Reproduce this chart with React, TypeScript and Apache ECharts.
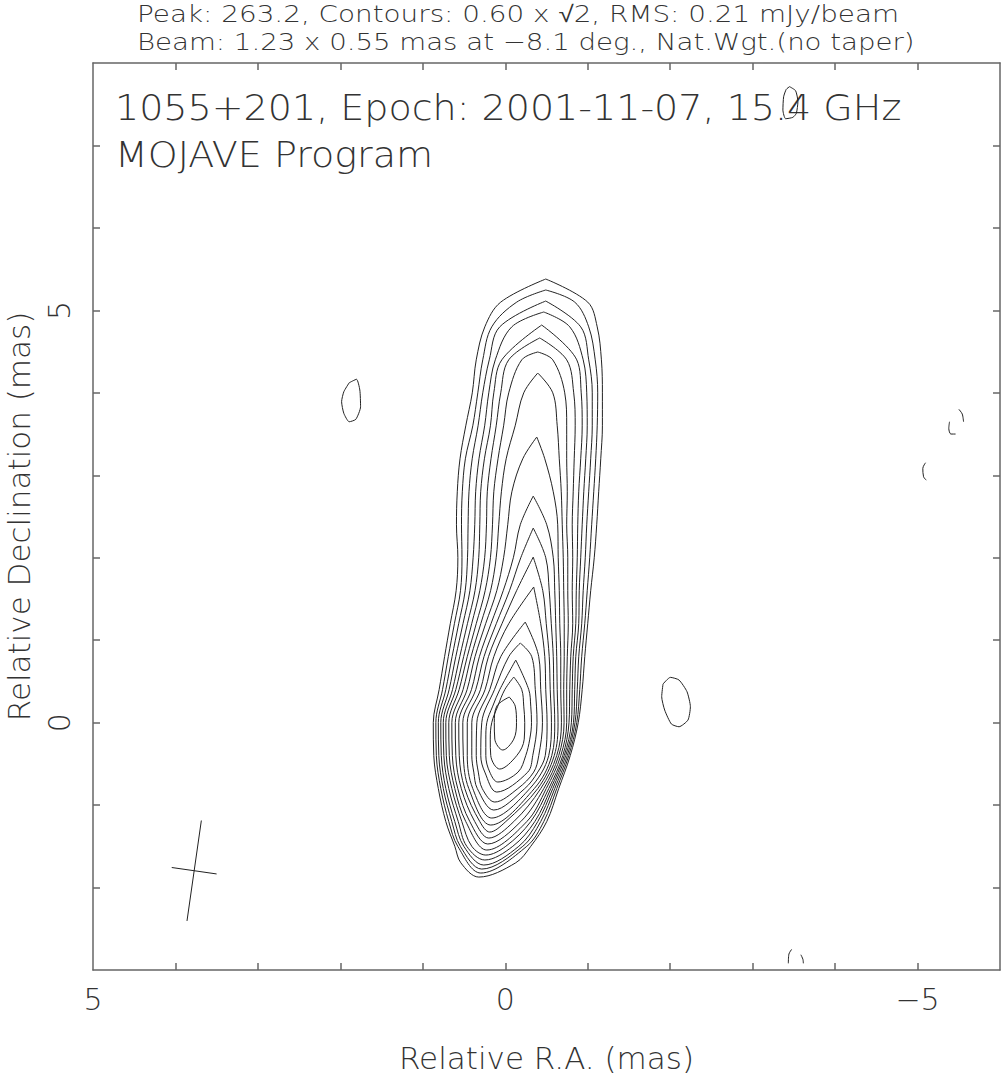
import { useEffect, useRef } from "react";
import * as echarts from "echarts";

// Contour levels (mJy/beam): 0.60 x sqrt(2)^n
const LEVELS = [0.6, 0.85, 1.2, 1.7, 2.4, 3.39, 4.8, 6.79, 9.6, 13.58, 19.2, 27.15, 38.4, 54.31, 76.8, 108.61, 153.6, 217.22];

// Each contour: [Dec (mas), R.A. of east/left crossing, R.A. of west/right crossing]
const C01 = [[5.1, 0.055, -1.0], [4.8, 0.248, -1.115], [4.4, 0.352, -1.166], [4.0, 0.4, -1.178], [3.6, 0.479, -1.178], [3.2, 0.549, -1.158], [2.8, 0.582, -1.133], [2.4, 0.592, -1.109], [2.0, 0.575, -1.079], [1.6, 0.596, -1.036], [1.2, 0.667, -1.0], [0.8, 0.736, -0.964], [0.4, 0.802, -0.933], [0.0, 0.873, -0.885], [-0.4, 0.867, -0.788], [-0.8, 0.812, -0.648], [-1.2, 0.721, -0.503], [-1.5, 0.612, -0.309], [-1.7, 0.539, -0.127]];
const C02 = [[5.1, -0.139, -0.842], [4.8, 0.164, -1.012], [4.4, 0.273, -1.091], [4.0, 0.333, -1.121], [3.6, 0.394, -1.115], [3.2, 0.484, -1.097], [2.8, 0.521, -1.073], [2.4, 0.531, -1.048], [2.0, 0.525, -1.024], [1.6, 0.543, -0.994], [1.2, 0.617, -0.964], [0.8, 0.691, -0.927], [0.4, 0.761, -0.903], [0.0, 0.842, -0.867], [-0.4, 0.836, -0.77], [-0.8, 0.782, -0.624], [-1.2, 0.685, -0.467], [-1.5, 0.576, -0.261]];
const C03 = [[4.8, 0.067, -0.915], [4.4, 0.194, -1.012], [4.0, 0.273, -1.055], [3.6, 0.33, -1.055], [3.2, 0.401, -1.036], [2.8, 0.44, -1.012], [2.4, 0.451, -0.988], [2.0, 0.458, -0.97], [1.6, 0.486, -0.945], [1.2, 0.565, -0.927], [0.8, 0.645, -0.891], [0.4, 0.721, -0.873], [0.0, 0.812, -0.846], [-0.4, 0.806, -0.752], [-0.8, 0.752, -0.6], [-1.2, 0.648, -0.43], [-1.5, 0.545, -0.212]];
const C04 = [[4.8, -0.079, -0.782], [4.4, 0.121, -0.945], [4.0, 0.2, -0.988], [3.6, 0.25, -0.994], [3.2, 0.319, -0.976], [2.8, 0.359, -0.952], [2.4, 0.37, -0.933], [2.0, 0.39, -0.915], [1.6, 0.429, -0.897], [1.2, 0.513, -0.891], [0.8, 0.6, -0.855], [0.4, 0.681, -0.842], [0.0, 0.782, -0.827], [-0.4, 0.776, -0.733], [-0.8, 0.721, -0.576], [-1.2, 0.612, -0.394], [-1.5, 0.503, -0.164]];
const C05 = [[4.4, 0.042, -0.867], [4.0, 0.139, -0.921], [3.6, 0.18, -0.933], [3.2, 0.253, -0.915], [2.8, 0.298, -0.891], [2.4, 0.309, -0.879], [2.0, 0.322, -0.873], [1.6, 0.367, -0.861], [1.2, 0.459, -0.855], [0.8, 0.552, -0.824], [0.4, 0.64, -0.812], [0.0, 0.752, -0.802], [-0.4, 0.745, -0.715], [-0.8, 0.685, -0.552], [-1.2, 0.57, -0.358], [-1.5, 0.467, -0.091]];
const C06 = [[4.4, -0.042, -0.745], [4.0, 0.055, -0.83], [3.6, 0.11, -0.848], [3.2, 0.173, -0.836], [2.8, 0.218, -0.824], [2.4, 0.228, -0.812], [2.0, 0.25, -0.818], [1.6, 0.309, -0.812], [1.2, 0.407, -0.818], [0.8, 0.505, -0.794], [0.4, 0.6, -0.782], [0.0, 0.721, -0.773], [-0.4, 0.715, -0.697], [-0.8, 0.648, -0.527], [-1.2, 0.527, -0.309], [-1.5, 0.406, -0.006]];
const C07 = [[4.4, -0.2, -0.576], [4.0, -0.042, -0.721], [3.6, 0.02, -0.745], [3.2, 0.088, -0.745], [2.8, 0.139, -0.752], [2.4, 0.155, -0.745], [2.0, 0.18, -0.758], [1.6, 0.244, -0.758], [1.2, 0.352, -0.764], [0.8, 0.461, -0.752], [0.4, 0.56, -0.745], [0.0, 0.685, -0.745], [-0.4, 0.679, -0.673], [-0.8, 0.612, -0.497], [-1.2, 0.479, -0.261]];
const C08 = [[4.0, -0.224, -0.576], [3.6, -0.12, -0.63], [3.2, -0.011, -0.655], [2.8, 0.047, -0.679], [2.4, 0.079, -0.691], [2.0, 0.11, -0.703], [1.6, 0.178, -0.709], [1.2, 0.297, -0.715], [0.8, 0.415, -0.715], [0.4, 0.512, -0.709], [0.0, 0.648, -0.713], [-0.4, 0.642, -0.648], [-0.8, 0.576, -0.467], [-1.2, 0.43, -0.188]];
const C09 = [[3.2, -0.212, -0.479], [2.8, -0.08, -0.582], [2.4, -0.03, -0.636], [2.0, 0.02, -0.642], [1.6, 0.103, -0.655], [1.2, 0.238, -0.661], [0.8, 0.367, -0.673], [0.4, 0.463, -0.673], [0.0, 0.606, -0.681], [-0.4, 0.6, -0.624], [-0.8, 0.533, -0.43], [-1.2, 0.37, -0.103]];
const C10 = [[2.4, -0.182, -0.503], [2.0, -0.098, -0.582], [1.6, 0.025, -0.6], [1.2, 0.173, -0.612], [0.8, 0.314, -0.624], [0.4, 0.41, -0.63], [0.0, 0.564, -0.64], [-0.4, 0.558, -0.594], [-0.8, 0.491, -0.394], [-1.2, 0.309, -0.006]];
const C11 = [[2.0, -0.188, -0.491], [1.6, -0.051, -0.533], [1.2, 0.109, -0.558], [0.8, 0.258, -0.582], [0.4, 0.358, -0.588], [0.0, 0.515, -0.6], [-0.4, 0.509, -0.564], [-0.8, 0.442, -0.352]];
const C12 = [[1.6, -0.137, -0.455], [1.2, 0.04, -0.497], [0.8, 0.204, -0.533], [0.4, 0.301, -0.545], [0.0, 0.461, -0.56], [-0.4, 0.461, -0.527], [-0.8, 0.394, -0.297]];
const C13 = [[1.2, -0.042, -0.43], [0.8, 0.139, -0.479], [0.4, 0.245, -0.491], [0.0, 0.406, -0.507], [-0.4, 0.406, -0.485], [-0.6, 0.382, -0.394], [-0.8, 0.339, -0.236]];
const C14 = [[0.8, 0.055, -0.406], [0.4, 0.188, -0.43], [0.0, 0.345, -0.451], [-0.4, 0.352, -0.406], [-0.6, 0.327, -0.345], [-0.8, 0.279, -0.152]];
const C15 = [[0.8, -0.042, -0.321], [0.4, 0.131, -0.364], [0.0, 0.285, -0.385], [-0.4, 0.297, -0.333], [-0.6, 0.248, -0.273]];
const C16 = [[0.4, 0.067, -0.285], [0.2, 0.152, -0.309], [0.0, 0.224, -0.318], [-0.2, 0.236, -0.297], [-0.4, 0.236, -0.248], [-0.6, 0.188, -0.155]];
const C17 = [[0.4, 0.006, -0.2], [0.2, 0.091, -0.224], [0.0, 0.164, -0.236], [-0.2, 0.182, -0.23], [-0.4, 0.176, -0.139]];
const C18 = [[0.2, 0.103, -0.121], [0.0, 0.133, -0.136], [-0.2, 0.127, -0.103]];
const CROSSINGS = [C01, C02, C03, C04, C05, C06, C07, C08, C09, C10, C11, C12, C13, C14, C15, C16, C17, C18];

// Northernmost and southernmost point of each contour [R.A., Dec]
const APEX = [[-0.491, 5.38], [-0.491, 5.247], [-0.491, 5.113], [-0.467, 4.98], [-0.442, 4.822], [-0.418, 4.665], [-0.394, 4.495], [-0.394, 4.24], [-0.382, 3.464], [-0.339, 2.748], [-0.339, 2.36], [-0.339, 2.008], [-0.345, 1.645], [-0.242, 1.22], [-0.182, 0.965], [-0.127, 0.759], [-0.103, 0.553], [-0.048, 0.31]];
const BOTTOM = [[0.321, -1.873], [0.297, -1.824], [0.285, -1.776], [0.261, -1.727], [0.248, -1.666], [0.236, -1.606], [0.224, -1.545], [0.212, -1.472], [0.2, -1.4], [0.188, -1.327], [0.176, -1.242], [0.164, -1.157], [0.139, -1.06], [0.127, -0.963], [0.103, -0.842], [0.091, -0.72], [0.067, -0.563], [0.03, -0.332]];

// Isolated lowest-level contours
const BLOB_EAST = [[1.893, 4.122], [1.804, 4.164], [1.764, 4.034], [1.755, 3.831], [1.812, 3.679], [1.893, 3.649], [1.958, 3.751], [1.985, 3.892], [1.958, 4.013], [1.893, 4.122]];
const BLOB_WEST = [[-1.913, 0.468], [-2.002, 0.549], [-2.107, 0.517], [-2.204, 0.375], [-2.245, 0.193], [-2.216, 0.032], [-2.107, -0.05], [-2.015, -0.017], [-1.933, 0.153], [-1.897, 0.314], [-1.913, 0.468]];
const BLOB_NORTH = [[-3.448, 7.713], [-3.521, 7.664], [-3.549, 7.531], [-3.53, 7.39], [-3.488, 7.341], [-3.4, 7.324], [-3.367, 7.43], [-3.376, 7.591], [-3.408, 7.681], [-3.448, 7.713]];

// Visible dashes of negative contours
const NEG_DASHES = [
  [[-5.501, 3.8], [-5.542, 3.743], [-5.558, 3.649]],
  [[-5.388, 3.649], [-5.379, 3.569], [-5.404, 3.5], [-5.461, 3.5]],
  [[-5.097, 3.152], [-5.064, 3.084], [-5.073, 2.982], [-5.105, 2.942]],
  [[-3.473, -2.75], [-3.44, -2.807], [-3.433, -2.919]],
  [[-3.585, -2.815], [-3.61, -2.871], [-3.615, -2.919]],
];

// Restoring beam cross (1.23 x 0.55 mas at -8.1 deg)
const BEAM_MAJOR = [[3.686, -1.187], [3.86, -2.405]];
const BEAM_MINOR = [[4.045, -1.757], [3.501, -1.835]];

const X_TICKS = [-5, -4, -3, -2, -1, 0, 1, 2, 3, 4];
const Y_TICKS = [-2, -1, 0, 1, 2, 3, 4, 5, 6, 7];
const X_LABELS = [5, 0, -5];
const Y_LABELS = [0, 5];

const TITLE_1 = "Peak: 263.2, Contours: 0.60 x \u221A2, RMS: 0.21 mJy/beam";
const TITLE_2 = "Beam: 1.23 x 0.55 mas at \u22128.1 deg., Nat.Wgt.(no taper)";
const INNER_1 = "1055+201, Epoch: 2001-11-07, 15.4 GHz";
const INNER_2 = "MOJAVE Program";

const FONT = '"DejaVu Sans", sans-serif';
const TXT = "#333";
const FRAME = "#666";
const LINE = "#222";

function ring(apex: number[], rows: number[][], bottom: number[]) {
  const pts: number[][] = [apex];
  rows.forEach((r) => pts.push([r[2], r[0]]));
  pts.push(bottom);
  for (let i = rows.length - 1; i >= 0; i--) pts.push([rows[i][1], rows[i][0]]);
  pts.push(apex);
  return pts;
}

function lineSeries(name: string, data: number[][], smooth: number | boolean) {
  return {
    name,
    type: "line",
    data,
    showSymbol: false,
    symbol: "none",
    smooth,
    silent: true,
    lineStyle: { color: LINE, width: 1 },
    xAxisIndex: 0,
    yAxisIndex: 0,
  };
}

function textEl(text: string, x: number, y: number, size: number, sx: number) {
  return {
    type: "text",
    x,
    y,
    scaleX: sx,
    style: { text, fontSize: size, fontFamily: FONT, fontWeight: 200, fill: TXT, textAlign: "left", textVerticalAlign: "middle" },
  };
}

function buildOption() {
  const series: any[] = [];
  CROSSINGS.forEach((rows, i) => {
    series.push(lineSeries(`${LEVELS[i]} mJy`, ring(APEX[i], rows, BOTTOM[i]), 0.35));
  });
  series.push(lineSeries("blob east", BLOB_EAST, 0.2));
  series.push(lineSeries("blob west", BLOB_WEST, 0.2));
  series.push(lineSeries("blob north", BLOB_NORTH, 0.2));
  NEG_DASHES.forEach((d, i) => series.push(lineSeries(`neg ${i}`, d, 0.3)));
  series.push(lineSeries("beam major", BEAM_MAJOR, false));
  series.push(lineSeries("beam minor", BEAM_MINOR, false));

  const axisLine = { show: true, onZero: false, lineStyle: { color: FRAME, width: 1.5 } };
  const tickStyle = { color: FRAME, width: 1.5 };
  const labelStyle = { fontSize: 30, color: TXT, fontFamily: FONT, fontWeight: 200 };
  const nameStyle = { fontSize: 31, color: TXT, fontFamily: FONT, fontWeight: 200 };
  const fmt = (v: number) => String(v).replace("-", "\u2212");

  return {
    animation: false,
    backgroundColor: "#fff",
    grid: { left: 93, top: 63, width: 907, height: 907, outerBoundsMode: "none", containLabel: false },
    xAxis: [
      {
        type: "value", position: "bottom", min: -6, max: 5, inverse: true,
        splitLine: { show: false }, axisLine,
        axisTick: { show: true, inside: true, length: 7, lineStyle: tickStyle, customValues: X_TICKS },
        axisLabel: { show: true, customValues: X_LABELS, formatter: fmt, margin: 14, ...labelStyle },
        name: "Relative R.A. (mas)", nameLocation: "middle", nameGap: 72,
        nameTextStyle: { ...nameStyle },
      },
      {
        type: "value", position: "top", min: -6, max: 5, inverse: true,
        splitLine: { show: false }, axisLine,
        axisTick: { show: true, inside: true, length: 7, lineStyle: tickStyle, customValues: X_TICKS },
        axisLabel: { show: false },
      },
    ],
    yAxis: [
      {
        type: "value", position: "left", min: -3, max: 8,
        splitLine: { show: false }, axisLine,
        axisTick: { show: true, inside: true, length: 7, lineStyle: tickStyle, customValues: Y_TICKS },
        axisLabel: { show: true, customValues: Y_LABELS, formatter: fmt, rotate: 90, margin: 19, ...labelStyle },
        name: "Relative Declination (mas)", nameLocation: "middle", nameGap: 59, nameRotate: 90,
        nameTextStyle: { ...nameStyle },
      },
      {
        type: "value", position: "right", min: -3, max: 8,
        splitLine: { show: false }, axisLine,
        axisTick: { show: true, inside: true, length: 7, lineStyle: tickStyle, customValues: Y_TICKS },
        axisLabel: { show: false },
      },
    ],
    graphic: [
      textEl(TITLE_1, 137, 14, 23, 1.21),
      textEl(TITLE_2, 137, 42, 23, 1.2),
      textEl(INNER_1, 115, 108, 36, 1.056),
      textEl(INNER_2, 115, 155, 36, 1.056),
    ],
    series,
  };
}

export default function App() {
  const ref = useRef<HTMLDivElement>(null);
  useEffect(() => {
    if (!ref.current) return;
    const chart = echarts.init(ref.current, null, { renderer: "svg" });
    chart.setOption(buildOption() as any);
    return () => chart.dispose();
  }, []);
  return (
    <div
      ref={ref}
      style={{ position: "absolute", left: 0, top: 0, width: 1001, height: 1079, background: "#fff" }}
    />
  );
}
